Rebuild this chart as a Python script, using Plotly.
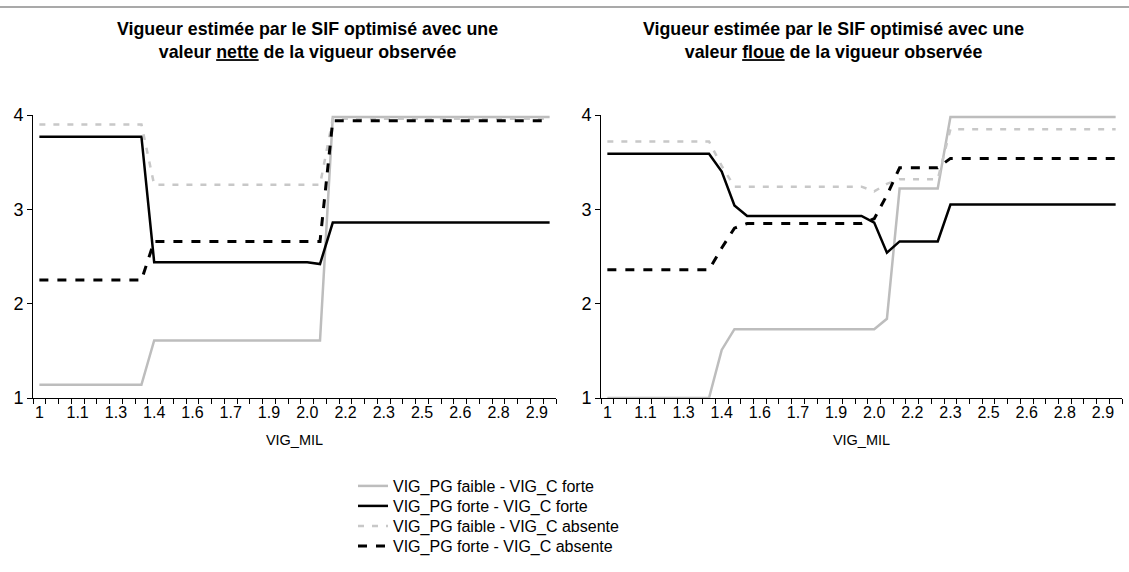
import plotly.graph_objects as go

# VIG_MIL categories (x axis), every third one carries a label
VIG_MIL = [1.00, 1.05, 1.10, 1.15, 1.20, 1.25, 1.30, 1.35, 1.40, 1.45,
           1.50, 1.55, 1.60, 1.65, 1.70, 1.75, 1.80, 1.85, 1.90, 1.95,
           2.00, 2.05, 2.10, 2.15, 2.20, 2.25, 2.30, 2.35, 2.40, 2.45,
           2.50, 2.55, 2.60, 2.65, 2.70, 2.75, 2.80, 2.85, 2.90, 2.95, 3.00]
tick_text = ["1", "1.1", "1.3", "1.4", "1.6", "1.7", "1.9", "2.0", "2.2", "2.3", "2.5", "2.6", "2.8", "2.9"]

series_names = [
    "VIG_PG faible - VIG_C forte",
    "VIG_PG forte - VIG_C forte",
    "VIG_PG faible - VIG_C absente",
    "VIG_PG forte - VIG_C absente",
]

# left panel: crisp ("nette") observed vigour
nette_faible_forte = [1.14] * 9 + [1.61] * 14 + [3.98] * 18
nette_forte_forte = [3.77] * 9 + [2.44] * 13 + [2.42] + [2.86] * 18
nette_faible_absente = [3.90] * 9 + [3.26] * 14 + [3.96] * 18
nette_forte_absente = [2.25] * 9 + [2.66] * 14 + [3.94] * 18

# right panel: fuzzy ("floue") observed vigour
floue_faible_forte = [1.00] * 9 + [1.51] + [1.73] * 12 + [1.84] + [3.22] * 4 + [3.98] * 14
floue_forte_forte = [3.59] * 9 + [3.40, 3.04] + [2.93] * 10 + [2.86, 2.54] + [2.66] * 4 + [3.05] * 14
floue_faible_absente = [3.72] * 9 + [3.46] + [3.24] * 11 + [3.19, 3.27] + [3.32] * 4 + [3.85] * 14
floue_forte_absente = [2.36] * 9 + [2.59, 2.80] + [2.85] * 10 + [2.90, 3.15] + [3.44] * 4 + [3.54] * 14

styles = [
    dict(color="#BDBDBD", width=2.5, dash="solid"),
    dict(color="black", width=2.5, dash="solid"),
    dict(color="#C8C8C8", width=2.5, dash="6px,8px"),
    dict(color="black", width=3, dash="9px,9px"),
]
legend_ids = ["legend", "legend2", "legend3", "legend4"]

fig = go.Figure()

panels = [
    ("x", "y", [nette_faible_forte, nette_forte_forte, nette_faible_absente, nette_forte_absente], True),
    ("x2", "y2", [floue_faible_forte, floue_forte_forte, floue_faible_absente, floue_forte_absente], False),
]
for xa, ya, values, show in panels:
    for name, vals, st, lg in zip(series_names, values, styles, legend_ids):
        fig.add_trace(
            go.Scatter(
                x=VIG_MIL,
                y=vals,
                name=name,
                mode="lines",
                line=st,
                xaxis=xa,
                yaxis=ya,
                showlegend=show,
                legend=lg,
            )
        )

W, H = 1129, 572
FONT = "Liberation Sans, Arial, sans-serif"
xaxis_common = dict(
    range=[0.975, 3.025],
    tickvals=VIG_MIL[::3],
    ticktext=tick_text,
    ticks="",
    showline=True,
    linecolor="black",
    linewidth=1,
    showgrid=False,
    zeroline=False,
    automargin=False,
    tickfont=dict(family=FONT, size=16, color="black"),
    minor=dict(tick0=0.975, dtick=0.05, ticks="outside", ticklen=5, tickcolor="black"),
    title=dict(text="VIG_MIL", font=dict(family=FONT, size=14.5, color="black"), standoff=14),
)
yaxis_common = dict(
    range=[1, 4],
    tickvals=[1, 2, 3, 4],
    ticks="outside",
    ticklen=5,
    tickcolor="black",
    showline=True,
    linecolor="black",
    linewidth=1,
    showgrid=False,
    zeroline=False,
    automargin=False,
    tickfont=dict(family=FONT, size=18, color="black"),
    domain=[1 - 398 / H, 1 - 115 / H],
)

# one legend box per row so the rows sit 20px apart as in the original
legend_rows = [486, 506, 526, 546]
legends = {
    lg: dict(
        x=353 / W,
        y=1 - row / H,
        xanchor="left",
        yanchor="middle",
        font=dict(family=FONT, size=16, color="black"),
        itemwidth=30,
        bgcolor="rgba(0,0,0,0)",
    )
    for lg, row in zip(legend_ids, legend_rows)
}

fig.update_layout(
    width=W,
    height=H,
    margin=dict(l=0, r=0, t=0, b=0, autoexpand=False),
    paper_bgcolor="white",
    plot_bgcolor="white",
    xaxis=dict(xaxis_common, domain=[33 / W, 556 / W], anchor="y"),
    yaxis=dict(yaxis_common, anchor="x"),
    xaxis2=dict(xaxis_common, domain=[601 / W, 1122 / W], anchor="y2"),
    yaxis2=dict(yaxis_common, anchor="x2"),
    shapes=[
        dict(type="line", xref="paper", yref="paper", x0=0, x1=1, y0=1 - 7 / H, y1=1 - 7 / H,
             line=dict(color="#8C8C8C", width=1.5)),
    ],
    **legends,
)

title_font = dict(family="Liberation Sans Narrow, Liberation Sans, Arial, sans-serif", size=17.8, color="black")
fig.add_annotation(
    x=307 / W, y=1 - 41 / H, xref="paper", yref="paper", showarrow=False,
    text="<b>Vigueur estimée par le SIF optimisé avec une<br>valeur <u>nette</u> de la vigueur observée</b>",
    font=title_font, align="center", xanchor="center", yanchor="middle",
)
fig.add_annotation(
    x=833 / W, y=1 - 41 / H, xref="paper", yref="paper", showarrow=False,
    text="<b>Vigueur estimée par le SIF optimisé avec une<br>valeur <u>floue</u> de la vigueur observée</b>",
    font=title_font, align="center", xanchor="center", yanchor="middle",
)

# the page's default body margin would shift the figure by 8px
fig.write_html(
    "out.html",
    config={"displayModeBar": False},
    post_script="document.body.style.margin = '0';",
)
